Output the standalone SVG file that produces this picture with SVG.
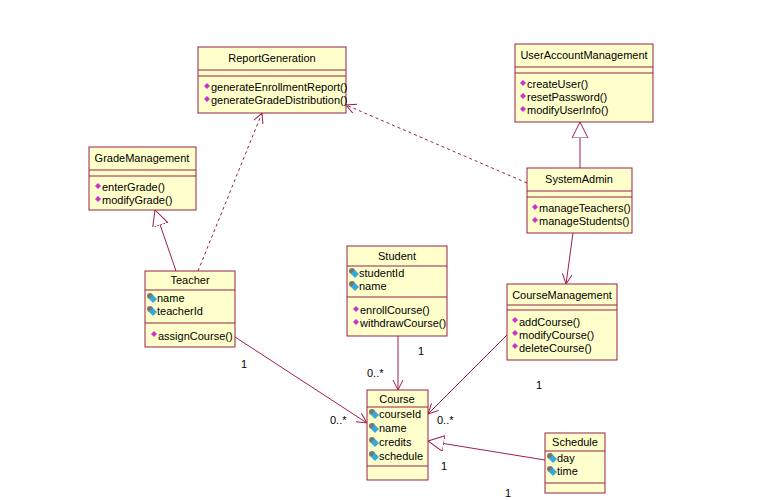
<svg xmlns="http://www.w3.org/2000/svg" width="783" height="500" viewBox="0 0 783 500">
<style>
.box{fill:#ffffcc;stroke:#99204a;stroke-width:1}
.t{font-family:"Liberation Sans",Arial,sans-serif;font-size:11px;fill:#000}
.c{text-anchor:middle}
.ln{stroke:#99204a;stroke-width:1;fill:none}
.d{stroke-dasharray:3,3}
</style>
<defs>
<marker id="open" markerWidth="12" markerHeight="12" refX="10" refY="5" orient="auto" markerUnits="userSpaceOnUse"><path d="M0,0 L10,5 L0,10" fill="none" stroke="#99204a"/></marker>
<marker id="tri" markerWidth="20" markerHeight="20" refX="16" refY="8" orient="auto" markerUnits="userSpaceOnUse"><path d="M0,0 L16,8 L0,16 Z" fill="#fff" stroke="#99204a"/></marker>
<g id="op"><path d="M0,-3 L3,0 L0,3 L-3,0 Z" fill="#cc33cc"/></g>
<g id="at"><circle cx="-1" cy="-2" r="3" fill="#777"/><path d="M2,-3 L6,1 L2,5 L-2,1 Z" fill="#33aadd"/></g>
</defs>
<rect width="783" height="500" fill="#fff"/>
<g id="connectors">
<line class="ln d" x1="198" y1="271" x2="262" y2="113" marker-end="url(#open)"/>
<line class="ln d" x1="527" y1="183" x2="346" y2="105" marker-end="url(#open)"/>
<line class="ln" x1="176" y1="271" x2="155" y2="210" marker-end="url(#tri)"/>
<line class="ln" x1="580" y1="168" x2="580" y2="122" marker-end="url(#tri)"/>
<line class="ln" x1="573" y1="233" x2="566" y2="284" marker-end="url(#open)"/>
<line class="ln" x1="235" y1="337" x2="367" y2="423" marker-end="url(#open)"/>
<line class="ln" x1="398" y1="336" x2="398" y2="390" marker-end="url(#open)"/>
<line class="ln" x1="507" y1="335" x2="428" y2="414" marker-end="url(#open)"/>
<line class="ln" x1="545" y1="460" x2="428" y2="441" marker-end="url(#tri)"/>
<text class="t" x="241" y="368">1</text>
<text class="t" x="330" y="424">0..*</text>
<text class="t" x="418" y="355">1</text>
<text class="t" x="367" y="377">0..*</text>
<text class="t" x="536" y="389">1</text>
<text class="t" x="437" y="424">0..*</text>
<text class="t" x="441" y="470">1</text>
<text class="t" x="505" y="497">1</text>
</g>
<g id="ReportGeneration">
<rect class="box" x="198" y="47" width="148" height="66"/><line class="ln" x1="198" y1="70" x2="346" y2="70"/><line class="ln" x1="198" y1="76" x2="346" y2="76"/>
<text class="t c" x="272" y="62">ReportGeneration</text>
<use href="#op" x="207" y="86"/><text class="t" x="211" y="91">generateEnrollmentReport()</text>
<use href="#op" x="207" y="99"/><text class="t" x="211" y="104">generateGradeDistribution()</text>
</g>
<g id="UserAccountManagement">
<rect class="box" x="515" y="44" width="138" height="78"/><line class="ln" x1="515" y1="67" x2="653" y2="67"/><line class="ln" x1="515" y1="73" x2="653" y2="73"/>
<text class="t c" x="584" y="59">UserAccountManagement</text>
<use href="#op" x="523" y="83"/><text class="t" x="527" y="88">createUser()</text>
<use href="#op" x="523" y="96"/><text class="t" x="527" y="101">resetPassword()</text>
<use href="#op" x="523" y="109"/><text class="t" x="527" y="114">modifyUserInfo()</text>
</g>
<g id="GradeManagement">
<rect class="box" x="89" y="147" width="107" height="63"/><line class="ln" x1="89" y1="170" x2="196" y2="170"/><line class="ln" x1="89" y1="176" x2="196" y2="176"/>
<text class="t c" x="142" y="162">GradeManagement</text>
<use href="#op" x="98" y="186"/><text class="t" x="102" y="191">enterGrade()</text>
<use href="#op" x="98" y="199"/><text class="t" x="102" y="204">modifyGrade()</text>
</g>
<g id="SystemAdmin">
<rect class="box" x="527" y="168" width="105" height="65"/><line class="ln" x1="527" y1="191" x2="632" y2="191"/><line class="ln" x1="527" y1="197" x2="632" y2="197"/>
<text class="t c" x="579" y="183">SystemAdmin</text>
<use href="#op" x="535" y="207"/><text class="t" x="539" y="212">manageTeachers()</text>
<use href="#op" x="535" y="220"/><text class="t" x="539" y="225">manageStudents()</text>
</g>
<g id="Teacher">
<rect class="box" x="145" y="271" width="90" height="76"/><line class="ln" x1="145" y1="290" x2="235" y2="290"/><line class="ln" x1="145" y1="323" x2="235" y2="323"/>
<text class="t c" x="190" y="284">Teacher</text>
<use href="#at" x="151" y="298"/><text class="t" x="157" y="302">name</text>
<use href="#at" x="151" y="311"/><text class="t" x="157" y="315">teacherId</text>
<use href="#op" x="154" y="334"/><text class="t" x="158" y="340">assignCourse()</text>
</g>
<g id="Student">
<rect class="box" x="347" y="246" width="100" height="90"/><line class="ln" x1="347" y1="266" x2="447" y2="266"/><line class="ln" x1="347" y1="297" x2="447" y2="297"/>
<text class="t c" x="397" y="260">Student</text>
<use href="#at" x="353" y="273"/><text class="t" x="359" y="277">studentId</text>
<use href="#at" x="353" y="286"/><text class="t" x="359" y="290">name</text>
<use href="#op" x="356" y="309"/><text class="t" x="360" y="314">enrollCourse()</text>
<use href="#op" x="356" y="322"/><text class="t" x="360" y="327">withdrawCourse()</text>
</g>
<g id="CourseManagement">
<rect class="box" x="507" y="284" width="110" height="76"/><line class="ln" x1="507" y1="305" x2="617" y2="305"/><line class="ln" x1="507" y1="310" x2="617" y2="310"/>
<text class="t c" x="562" y="299">CourseManagement</text>
<use href="#op" x="515" y="320"/><text class="t" x="519" y="326">addCourse()</text>
<use href="#op" x="515" y="333"/><text class="t" x="519" y="339">modifyCourse()</text>
<use href="#op" x="515" y="346"/><text class="t" x="519" y="352">deleteCourse()</text>
</g>
<g id="Course">
<rect class="box" x="367" y="390" width="61" height="90"/><line class="ln" x1="367" y1="407" x2="428" y2="407"/><line class="ln" x1="367" y1="466" x2="428" y2="466"/>
<text class="t c" x="397" y="403">Course</text>
<use href="#at" x="373" y="414"/><text class="t" x="379" y="418">courseId</text>
<use href="#at" x="373" y="428"/><text class="t" x="379" y="432">name</text>
<use href="#at" x="373" y="442"/><text class="t" x="379" y="446">credits</text>
<use href="#at" x="373" y="456"/><text class="t" x="379" y="460">schedule</text>
</g>
<g id="Schedule">
<rect class="box" x="545" y="433" width="60" height="60"/><line class="ln" x1="545" y1="451" x2="605" y2="451"/><line class="ln" x1="545" y1="483" x2="605" y2="483"/>
<text class="t c" x="575" y="446">Schedule</text>
<use href="#at" x="551" y="458"/><text class="t" x="557" y="462">day</text>
<use href="#at" x="551" y="471"/><text class="t" x="557" y="475">time</text>
</g>
</svg>
